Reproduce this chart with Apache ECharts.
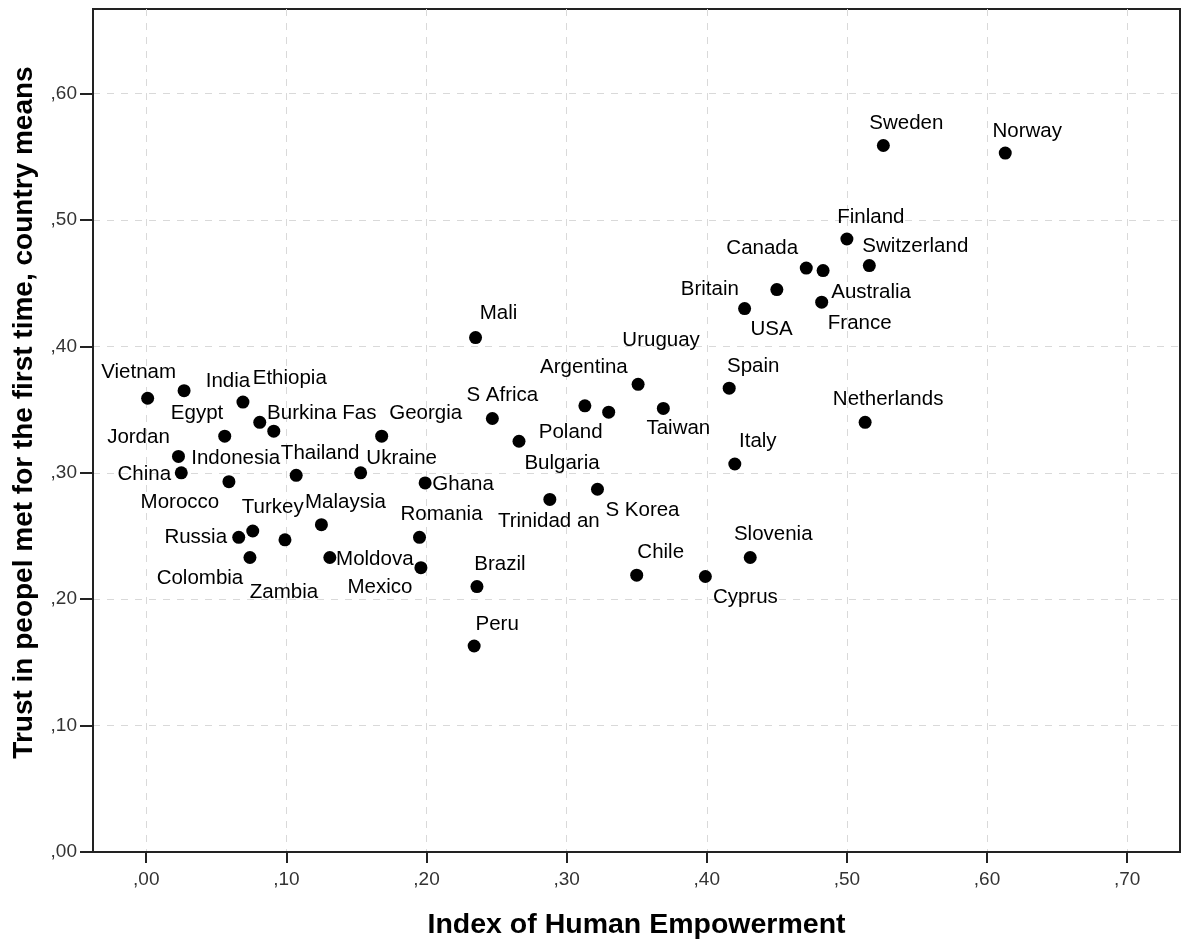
<!DOCTYPE html>
<html><head><meta charset="utf-8">
<script src="https://cdn.jsdelivr.net/npm/echarts@6/dist/echarts.min.js"></script>
<style>html,body{margin:0;padding:0;background:#fff}#c{width:1184px;height:945px}</style>
</head><body><div id="c"></div>
<script>
// ---- data ----
const countries = ['Vietnam','Egypt','India','Indonesia','Ethiopia','Burkina Fas','Jordan','China','Morocco',
  'Thailand','Ukraine','Georgia','Ghana','Turkey','Russia','Zambia','Malaysia','Colombia','Moldova','Romania','Mexico',
  'Mali','S Africa','Bulgaria','Argentina','Poland','Uruguay','Taiwan','Spain','Italy','Trinidad an','S Korea',
  'Brazil','Peru','Chile','Cyprus','Slovenia','USA','Sweden','Norway','Finland','Switzerland','Canada','Australia',
  'Britain','France','Netherlands'];
const empowerment = [0.001,0.027,0.069,0.056,0.081,0.091,0.023,0.025,0.059,
  0.107,0.153,0.168,0.199,0.076,0.066,0.099,0.125,0.074,0.131,0.195,0.196,
  0.235,0.247,0.266,0.313,0.330,0.351,0.369,0.416,0.420,0.288,0.322,
  0.236,0.234,0.350,0.399,0.431,0.427,0.526,0.613,0.500,0.516,0.471,0.483,
  0.450,0.482,0.513];
const trust = [0.359,0.365,0.356,0.329,0.340,0.333,0.313,0.300,0.293,
  0.298,0.300,0.329,0.292,0.254,0.249,0.247,0.259,0.233,0.233,0.249,0.225,
  0.407,0.343,0.325,0.353,0.348,0.370,0.351,0.367,0.307,0.279,0.287,
  0.210,0.163,0.219,0.218,0.233,0.430,0.559,0.553,0.485,0.464,0.462,0.460,
  0.445,0.435,0.340];
const xTickValues = [0, 0.1, 0.2, 0.3, 0.4, 0.5, 0.6, 0.7];
const xTickLabels = [',00', ',10', ',20', ',30', ',40', ',50', ',60', ',70'];
const yTickValues = [0, 0.1, 0.2, 0.3, 0.4, 0.5, 0.6];
const yTickLabels = [',00', ',10', ',20', ',30', ',40', ',50', ',60'];
const xTitle = 'Index of Human Empowerment';
const yTitle = 'Trust in peopel met for the first time, country means';

// ---- label placement (layout only: label centre offset from its dot, px) ----
const labelOffset = {
  'Vietnam':[-9,-26],'Egypt':[13,23],'India':[-15,-21],'Indonesia':[11,22],'Ethiopia':[30,-44],
  'Burkina Fas':[48,-18],'Jordan':[-40,-19],'China':[-37,2],'Morocco':[-49,21],'Thailand':[24,-22],
  'Ukraine':[41,-14],'Georgia':[44,-23],'Ghana':[38,1],'Turkey':[20,-24],'Russia':[-43,0],
  'Zambia':[-1,53],'Malaysia':[24,-22],'Colombia':[-50,21],'Moldova':[45,2],'Romania':[22,-23],
  'Mexico':[-41,20],'Mali':[23,-24],'S Africa':[10,-23],'Bulgaria':[43,22],'Argentina':[-1,-39],
  'Poland':[-38,20],'Uruguay':[23,-44],'Taiwan':[15,20],'Spain':[24,-22],'Italy':[23,-23],
  'Trinidad an':[-1,22],'S Korea':[45,21],'Brazil':[23,-22],'Peru':[23,-22],'Chile':[24,-23],
  'Cyprus':[40,21],'Slovenia':[23,-23],'USA':[27,21],'Sweden':[23,-22],'Norway':[22,-22],
  'Finland':[24,-22],'Switzerland':[46,-19],'Canada':[-44,-20],'Australia':[48,22],
  'Britain':[-67,0],'France':[38,21],'Netherlands':[23,-23]
};

function lookup(vals, labels) {
  return function (v) {
    for (let i = 0; i < vals.length; i++) if (Math.abs(vals[i] - v) < 1e-9) return labels[i];
    return '';
  };
}

const points = countries.map((c, i) => ({ name: c, value: [empowerment[i], trust[i]] }));

const chart = echarts.init(document.getElementById('c'), null, { renderer: 'canvas' });
const FONT = '"Liberation Sans", Arial, sans-serif';
chart.setOption({
  animation: false,
  backgroundColor: '#fff',
  grid: { left: 93, right: 4, top: 9, bottom: 93, show: true, borderColor: '#222', borderWidth: 2, backgroundColor: 'transparent' },
  xAxis: {
    type: 'value', min: -0.038, max: 0.7377,
    name: xTitle, nameLocation: 'middle', nameGap: 59,
    nameTextStyle: { fontFamily: FONT, fontWeight: 'bold', fontSize: 28.5, color: '#000' },
    axisLine: { show: true, onZero: false, lineStyle: { color: '#222', width: 2 } },
    axisTick: { show: true, inside: false, length: 11, lineStyle: { color: '#222', width: 2 }, customValues: xTickValues },
    axisLabel: { show: true, margin: 18, fontFamily: FONT, fontSize: 19, color: '#333', customValues: xTickValues,
      formatter: lookup(xTickValues, xTickLabels) },
    splitLine: { show: true, lineStyle: { color: '#d9d9d9', width: 1, type: [7, 7] } }
  },
  yAxis: {
    type: 'value', min: 0, max: 0.667,
    name: yTitle, nameLocation: 'middle', nameGap: 55, nameRotate: 90,
    nameTextStyle: { fontFamily: FONT, fontWeight: 'bold', fontSize: 28, color: '#000', padding: [0, 0, 0, 36] },
    axisLine: { show: true, onZero: false, lineStyle: { color: '#222', width: 2 } },
    axisTick: { show: true, inside: false, length: 13, lineStyle: { color: '#222', width: 2 }, customValues: yTickValues },
    axisLabel: { show: true, margin: 16, fontFamily: FONT, fontSize: 19, color: '#333', customValues: yTickValues,
      formatter: lookup(yTickValues, yTickLabels) },
    splitLine: { show: true, lineStyle: { color: '#d9d9d9', width: 1, type: [7, 7] } }
  },
  series: [{
    type: 'scatter',
    symbol: 'circle', symbolSize: 13,
    itemStyle: { color: '#000', opacity: 1 },
    label: { show: true, position: 'inside', formatter: '{b}', fontFamily: FONT, fontSize: 20.5, color: '#000', align: 'center', verticalAlign: 'middle' },
    labelLayout: function (p) {
      const o = labelOffset[countries[p.dataIndex]] || [0, -22];
      return { dx: o[0], dy: o[1], hideOverlap: false };
    },
    emphasis: { disabled: true },
    data: points
  }]
});
</script></body></html>
